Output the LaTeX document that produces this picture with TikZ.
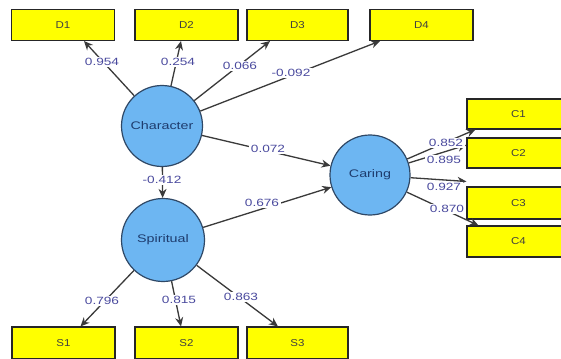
\documentclass[tikz,border=0pt]{standalone}
\usepackage{fontspec}
\setmainfont{Liberation Sans}
\newfontfamily\numfont[FakeStretch=1.3]{Liberation Sans}
\newfontfamily\boxfont[FakeStretch=1.15]{Liberation Sans}
\usetikzlibrary{arrows.meta,calc}
\definecolor{boxyellow}{HTML}{FFFF00}
\definecolor{circfill}{HTML}{6DB6F2}
\definecolor{circline}{HTML}{2F4866}
\definecolor{circtext}{HTML}{1E3C6E}
\definecolor{numcol}{HTML}{4A4A9E}
\definecolor{linecol}{HTML}{3A3A3A}
\tikzset{
  ind/.style={draw=black!85, line width=1.1pt, fill=boxyellow, minimum width=103pt, minimum height=31pt, inner sep=0pt, font=\boxfont\fontsize{10}{11}\selectfont, text=black!75},
  lat/.style={circle, draw=circline, line width=1.2pt, fill=circfill, minimum size=81pt, inner sep=0pt, font=\numfont\fontsize{11}{12}\selectfont, text=circtext},
  conn/.style={draw=linecol, line width=1.3pt, -{Stealth[length=9pt,width=8pt]}},
  lbl/.style={fill=white, inner sep=1.5pt, font=\numfont\fontsize{10.5}{11}\selectfont, text=numcol}
}
\begin{document}
\begin{tikzpicture}[x=1pt,y=-1pt]
\useasboundingbox[fill=white] (0,0) rectangle (561,358);
% indicator boxes
\node[ind] (D1) at (63,25) {D1};
\node[ind] (D2) at (186.5,25) {D2};
\node[ind,minimum width=101pt] (D3) at (297.5,25) {D3};
\node[ind] (D4) at (421.5,25) {D4};
\node[ind,minimum height=30pt] (C1) at (518.5,114) {C1};
\node[ind,minimum height=30pt] (C2) at (518.5,153) {C2};
\node[ind,minimum height=32pt] (C3) at (518.5,203) {C3};
\node[ind] (C4) at (518.5,241.5) {C4};
\node[ind,minimum height=32pt] (S1) at (63.5,343) {S1};
\node[ind,minimum height=32pt] (S2) at (186.5,343) {S2};
\node[ind,minimum width=101pt,minimum height=32pt] (S3) at (297.5,343) {S3};
% latent variables
\node[lat] (Char) at (162,126) {Character};
\node[lat,minimum size=83pt] (Spir) at (163,240) {Spiritual};
\node[lat,minimum size=80pt] (Car) at (370,175) {Caring};
% connectors
\draw[conn] (Char) -- ([xshift=21pt]D1.south);
\draw[conn] (Char) -- ([xshift=-5.5pt]D2.south);
\draw[conn] (Char) -- ([xshift=-27.5pt]D3.south);
\draw[conn] (Char) -- ([xshift=-41.5pt]D4.south);
\draw[conn] (Char) -- (Car);
\draw[conn] (Char) -- (Spir);
\draw[conn] (Spir) -- (Car);
\draw[conn] (Car) -- ([xshift=9pt]C1.south west);
\draw[conn] (Car) -- ([yshift=8pt]C2.west);
\draw[conn] (Car) -- ([yshift=5pt]C3.north west);
\draw[conn] (Car) -- ([xshift=12pt]C4.north west);
\draw[conn] (Spir) -- ([xshift=17pt]S1.north);
\draw[conn] (Spir) -- ([xshift=-5.5pt]S2.north);
\draw[conn] (Spir) -- ([xshift=-19.5pt]S3.north);
% labels
\node[lbl] (l1) at (102,62) {0.954};
\node[lbl] (l2) at (178,62) {0.254};
\node[lbl] (l3) at (240,66) {0.066};
\node[lbl] (l4) at (291,73) {-0.092};
\node[lbl] (l5) at (268,149) {0.072};
\node[lbl] (l6) at (162,180) {-0.412};
\node[lbl] (l7) at (262,203) {0.676};
\node[lbl] (l8) at (446,143) {0.852};
\node[lbl] (l9) at (444,160) {0.895};
\node[lbl] (l10) at (444,187) {0.927};
\node[lbl] (l11) at (447,209) {0.870};
\node[lbl] (l12) at (102,301) {0.796};
\node[lbl] (l13) at (179,300) {0.815};
\node[lbl] (l14) at (241,297) {0.863};
\end{tikzpicture}
\end{document}
